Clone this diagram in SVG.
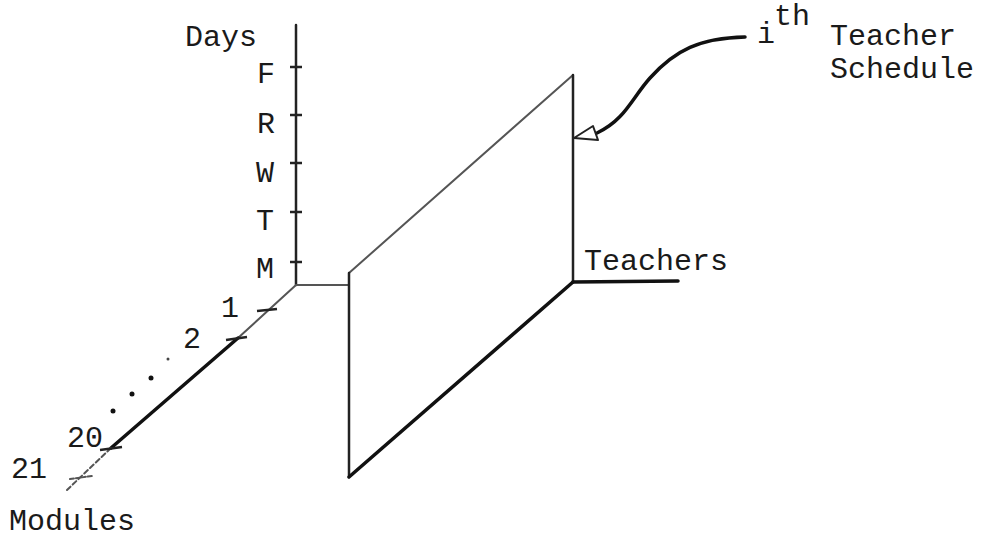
<svg xmlns="http://www.w3.org/2000/svg" width="998" height="541" viewBox="0 0 998 541">
<style>
.t{font-family:"Liberation Mono","Courier New",monospace;font-size:30px;fill:#1a1a1a}
.ax{stroke:#222;stroke-width:2.5;fill:none;stroke-linecap:round}
.lt{stroke:#555;stroke-width:2;fill:none;stroke-linecap:round}
.dk{stroke:#111;stroke-width:3.5;fill:none;stroke-linecap:round}
.tk{stroke:#222;stroke-width:2.5;fill:none}
</style>
<rect width="998" height="541" fill="#fff"/>
<g id="connectors">
  <!-- Days axis -->
  <g id="days-axis">
    <line class="ax" x1="296" y1="25" x2="296" y2="285"/>
    <line class="tk" x1="290" y1="67" x2="302" y2="67"/>
    <line class="tk" x1="290" y1="115" x2="302" y2="115"/>
    <line class="tk" x1="290" y1="163" x2="302" y2="163"/>
    <line class="tk" x1="290" y1="212" x2="302" y2="212"/>
    <line class="tk" x1="290" y1="262" x2="302" y2="262"/>
  </g>
  <!-- origin link -->
  <line class="lt" x1="296" y1="285" x2="349" y2="285"/>
  <!-- Modules axis -->
  <g id="modules-axis">
    <line class="lt" x1="296" y1="285" x2="238" y2="338"/>
    <line class="dk" x1="238" y1="338" x2="111" y2="448"/>
    <line class="lt" x1="111" y1="448" x2="67" y2="490" stroke-dasharray="5 3"/>
    <line class="tk" x1="257" y1="311" x2="277" y2="309"/>
    <line class="tk" x1="226" y1="340" x2="247" y2="337"/>
    <line class="tk" x1="100" y1="450" x2="122" y2="447"/>
    <line class="lt" x1="70" y1="479" x2="92" y2="476" stroke-dasharray="4 2"/>
    <circle cx="168" cy="359" r="1.5" fill="#444"/>
    <circle cx="151" cy="378" r="2.5" fill="#111"/>
    <circle cx="132" cy="394" r="2.5" fill="#111"/>
    <circle cx="113" cy="411" r="2.5" fill="#111"/>
  </g>
  <!-- Teacher schedule plane -->
  <g id="schedule-plane">
    <line class="lt" x1="349" y1="273" x2="573" y2="75"/>
    <line class="ax" x1="573" y1="75" x2="573" y2="282"/>
    <line class="ax" x1="349" y1="273" x2="349" y2="477"/>
    <line class="dk" x1="349" y1="477" x2="573" y2="282"/>
  </g>
  <!-- Teachers axis -->
  <line class="dk" x1="573" y1="282" x2="678" y2="281"/>
  <!-- annotation arrow -->
  <g id="annotation-arrow">
    <path class="dk" d="M597,133 C625,120 632,98 650,78 C675,50 700,38 745,37"/>
    <polygon points="574,138 593,126 598,140" fill="#fff" stroke="#222" stroke-width="2" stroke-linejoin="round"/>
  </g>
</g>
<g id="label-days"><text class="t" x="185" y="46">Days</text></g>
<g id="day-labels" class="t" text-anchor="middle">
  <text class="t" x="266" y="83" text-anchor="middle">F</text>
  <text class="t" x="266" y="133" text-anchor="middle">R</text>
  <text class="t" x="265" y="182" text-anchor="middle">W</text>
  <text class="t" x="265" y="230" text-anchor="middle">T</text>
  <text class="t" x="265" y="278" text-anchor="middle">M</text>
</g>
<g id="module-labels">
  <text class="t" x="230" y="317" text-anchor="middle">1</text>
  <text class="t" x="192" y="348" text-anchor="middle">2</text>
  <text class="t" x="85" y="447" text-anchor="middle">20</text>
  <text class="t" x="29" y="478" text-anchor="middle">21</text>
  <text class="t" x="9" y="530">Modules</text>
</g>
<g id="label-teachers"><text class="t" x="584" y="270">Teachers</text></g>
<g id="label-schedule">
  <text class="t" x="757" y="43">i</text>
  <text class="t" x="774" y="25">th</text>
  <text class="t" x="830" y="45">Teacher</text>
  <text class="t" x="830" y="78">Schedule</text>
</g>
</svg>
